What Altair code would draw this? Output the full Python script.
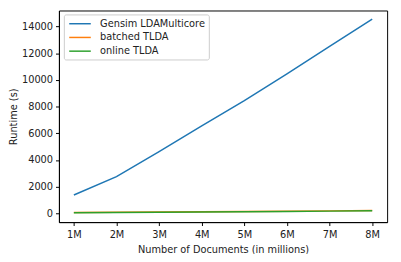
import altair as alt
import pandas as pd

docs = [1, 2, 3, 4, 5, 6, 7, 8]
gensim = [1370, 2750, 4620, 6550, 8450, 10450, 12500, 14550]
batched = [60, 80, 100, 120, 140, 160, 185, 215]
online = [40, 60, 80, 100, 120, 140, 165, 190]
series = ["Gensim LDAMulticore", "batched TLDA", "online TLDA"]
colors = ["#1f77b4", "#ff7f0e", "#2ca02c"]

rows = []
for name, vals in zip(series, [gensim, batched, online]):
    for d, v in zip(docs, vals):
        rows.append({"docs": d, "runtime": v, "series": name})
df = pd.DataFrame(rows)

font = "DejaVu Sans"

chart = alt.Chart(df).mark_line(strokeWidth=1.5).encode(
    x=alt.X("docs:Q", scale=alt.Scale(domain=[0.65, 8.35], nice=False, zero=False),
            axis=alt.Axis(values=docs, labelExpr="datum.value + 'M'", grid=False,
                          title="Number of Documents (in millions)", tickSize=3.5,
                          labelPadding=4, titlePadding=6)),
    y=alt.Y("runtime:Q", scale=alt.Scale(domain=[-657, 15193], nice=False, zero=False),
            axis=alt.Axis(values=[0, 2000, 4000, 6000, 8000, 10000, 12000, 14000],
                          format="d", grid=False, title="Runtime (s)", tickSize=3.5,
                          labelPadding=3, titlePadding=3)),
    color=alt.Color("series:N", sort=series,
                    scale=alt.Scale(domain=series, range=colors),
                    legend=alt.Legend(title=None, orient="none", legendX=5, legendY=4,
                                      symbolType="M-2,0H2", symbolSize=121,
                                      symbolStrokeWidth=1.5, symbolOffset=7,
                                      labelOffset=14,
                                      strokeColor="#cccccc", fillColor="white",
                                      cornerRadius=2, padding=3, rowPadding=2,
                                      labelFontSize=10, labelFont=font,
                                      labelColor="#222")),
    order=alt.Order("series:N"),
).properties(
    width=335, height=216,
    padding={"left": 52, "top": 0, "right": 6, "bottom": 30},
    autosize=alt.AutoSizeParams(type="none"),
).configure_view(
    stroke="black", strokeWidth=1
).configure_axis(
    labelFont=font, titleFont=font, labelFontSize=10, titleFontSize=10,
    labelColor="#222", titleColor="#222", titleFontWeight="normal",
    domainColor="black", tickColor="black", domain=True
)

chart.save("out.html", embed_options={"renderer": "svg", "actions": False})
